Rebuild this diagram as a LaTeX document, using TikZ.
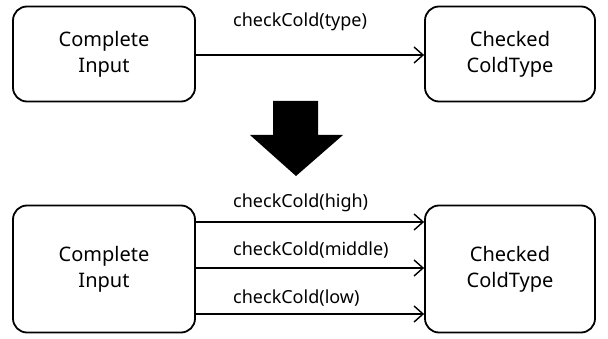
\documentclass[tikz,border=0pt]{standalone}
\usepackage{fontspec}
\usetikzlibrary{arrows.meta}
\setmainfont{Noto Sans}
\begin{document}
\begin{tikzpicture}[x=1pt,y=-1pt,
  state/.style={draw, line width=1.8pt, rounded corners=14pt, align=center, font=\fontsize{20}{26}\selectfont, inner sep=0pt},
  flow/.style={line width=1.4pt, -{Straight Barb[length=9pt,width=16pt,line width=1.4pt]}},
  lbl/.style={font=\fontsize{18}{20}\selectfont, inner sep=0pt, anchor=west}]
\useasboundingbox (0,0) rectangle (608,339);
% upper pair of states
\node[state, minimum width=182pt, minimum height=95pt] (ci1) at (104,54) {Complete\\Input};
\node[state, minimum width=170pt, minimum height=95pt] (cc1) at (510,54) {Checked\\ColdType};
\draw[flow] (ci1.east |- 0,55) -- (cc1.west |- 0,55);
\node[lbl] (t1) at (233,22) {checkCold(type)};
% block arrow between the two versions
\fill (273,101) -- (318,101) -- (318,135) -- (343,135) -- (296,176) -- (250,135) -- (273,135) -- cycle;
% lower pair of states
\node[state, minimum width=182pt, minimum height=127pt] (ci2) at (104,269) {Complete\\Input};
\node[state, minimum width=170pt, minimum height=127pt] (cc2) at (510,269) {Checked\\ColdType};
\draw[flow] (ci2.east |- 0,222) -- (cc2.west |- 0,222);
\draw[flow] (ci2.east |- 0,268) -- (cc2.west |- 0,268);
\draw[flow] (ci2.east |- 0,314) -- (cc2.west |- 0,314);
\node[lbl] (t2) at (233,203) {checkCold(high)};
\node[lbl] (t3) at (233,250) {checkCold(middle)};
\node[lbl] (t4) at (233,298) {checkCold(low)};
\end{tikzpicture}
\end{document}
